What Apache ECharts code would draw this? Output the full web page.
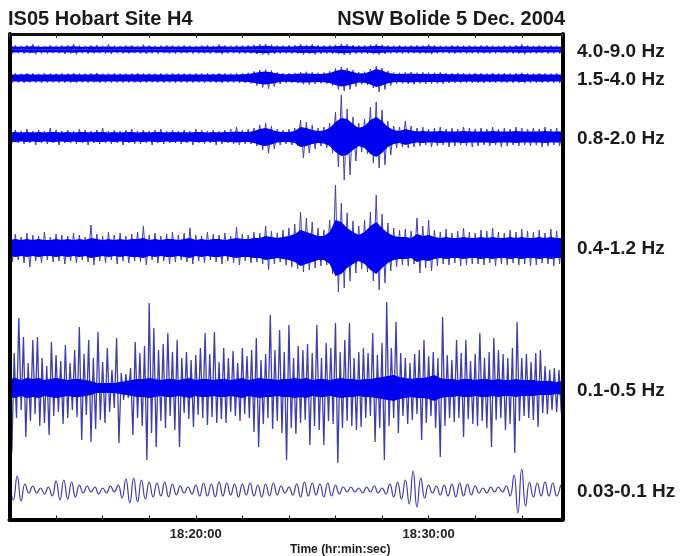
<!DOCTYPE html>
<html>
<head>
<meta charset="utf-8">
<script src="https://cdn.jsdelivr.net/npm/echarts@6/dist/echarts.min.js"></script>
<style>
  html, body { margin: 0; padding: 0; background: #fff; }
  #chart { width: 684px; height: 556px; }
</style>
</head>
<body>
<div id="chart"></div>
<script>
// ── Data (amplitudes, arbitrary units) ───────────────────────────────────────
const bandNames = ['4.0-9.0 Hz', '1.5-4.0 Hz', '0.8-2.0 Hz', '0.4-1.2 Hz', '0.1-0.5 Hz', '0.03-0.1 Hz'];
const tickLabels = ['18:20:00', '18:30:00'];
const startSec = 18 * 3600 + 12 * 60;   // 18:12:00
const endSec = startSec + 1425;         // 18:35:45
const envStep = 15;    // envelope samples, seconds
const b5Step = 6;      // 0.1-0.5 Hz peaks, seconds
const b6Step = 10;     // 0.03-0.1 Hz peaks, seconds

// dense traces, every 15 s: peak above (Up), peak below (Dn), solid core half-width (Core)
const b1Up = [3.8,4.1,3.7,4.3,5.3,3.9,3.6,4.2,3.8,4.0, 4.3,5.5,3.9,3.7,4.1,4.4,3.8,5.1,3.9,3.7,
  4.0,4.2,3.8,4.9,4.1,3.7,3.9,4.3,4.0,3.8, 4.2,3.9,3.7,4.1,4.3,3.8,5.0,4.1,3.9,4.2,
  4.0,4.3,4.7,5.2,5.6,4.8,4.2,4.0,4.3,4.5, 5.5,4.6,5.3,4.3,4.1,4.4,4.7,5.6,5.3,4.5,
  4.2,4.3,4.8,5.5,4.6,4.1,4.0,4.3,3.9,4.1, 4.2,4.0,5.1,4.1,3.9,3.8,4.2,4.0,3.9,4.1,
  3.8,4.0,4.2,3.9,3.8,4.1,3.9,4.2,5.2,4.0, 3.8,4.1,3.9,4.0,3.8,4.1];
const b1Dn = [3.9,3.7,4.2,3.8,4.8,4.0,4.1,3.7,3.9,4.4, 4.0,4.9,3.8,4.2,3.9,3.7,4.1,4.6,3.8,4.0,
  3.9,3.8,4.2,4.5,3.9,4.1,3.8,4.0,4.2,3.9, 3.8,4.1,4.0,3.9,4.2,3.8,4.7,4.0,3.8,4.1,
  4.2,4.0,4.5,5.0,5.4,4.6,4.1,3.9,4.2,4.3, 5.1,4.4,5.0,4.2,4.0,4.3,4.5,5.3,5.0,4.3,
  4.1,4.2,4.6,5.2,4.4,4.0,3.9,4.1,4.0,3.8, 4.1,3.9,4.7,4.0,3.8,3.9,4.1,3.8,4.0,3.9,
  3.9,3.8,4.1,4.0,3.7,3.9,4.0,4.1,4.8,3.9, 4.0,3.8,4.1,3.9,4.0,3.9];
const b1Core = [2.8,3.0,2.7,2.9,3.2,2.8,2.7,2.9,2.8,2.9, 3.0,3.3,2.8,2.7,2.9,3.0,2.8,3.1,2.8,2.7,
  2.9,3.0,2.8,3.1,2.9,2.7,2.8,3.0,2.9,2.8, 2.9,2.8,2.7,2.9,3.0,2.8,3.2,2.9,2.8,3.0,
  2.9,3.0,3.2,3.5,3.8,3.3,3.0,2.9,3.0,3.1, 3.6,3.2,3.5,3.0,2.9,3.1,3.2,3.7,3.5,3.1,
  3.0,3.0,3.3,3.7,3.2,2.9,2.8,3.0,2.8,2.9, 3.0,2.9,3.2,2.9,2.8,2.8,3.0,2.9,2.8,2.9,
  2.8,2.9,3.0,2.8,2.8,2.9,2.8,3.0,3.3,2.9, 2.8,2.9,2.8,2.9,2.8,2.9];

const b2Up = [4.5,4.7,4.3,4.9,4.6,4.4,4.8,4.5,4.3,4.7, 4.6,5.0,4.4,4.5,4.7,5.1,4.4,4.6,4.8,4.4,
  4.5,4.7,4.9,4.5,4.6,4.4,4.7,4.5,4.8,4.6, 4.5,4.4,4.7,4.6,4.8,4.5,4.9,4.6,4.5,4.7,
  4.8,5.3,6.5,8.0,8.5,7.5,5.7,5.0,4.8,5.1, 6.0,6.3,5.7,5.3,5.5,6.7,9.5,11.0,10.0,8.0,
  6.0,6.3,9.0,12.0,10.0,7.0,5.5,5.3,5.7,6.0, 5.3,5.8,5.5,5.4,5.7,5.0,4.8,5.1,4.9,4.7,
  5.0,4.8,4.6,5.1,4.7,4.9,4.6,4.8,5.3,4.7, 4.6,4.9,4.7,4.5,4.8,4.7];
const b2Dn = [4.6,4.5,4.8,4.4,4.7,4.9,4.5,4.4,4.7,4.6, 4.8,4.9,4.5,4.6,4.4,5.0,4.7,4.5,4.6,4.7,
  4.6,4.5,4.8,4.7,4.4,4.6,4.8,4.5,4.7,4.5, 4.7,4.6,4.5,4.8,4.6,4.7,5.0,4.5,4.6,4.8,
  4.9,5.5,7.5,9.5,10.5,8.5,6.0,5.1,4.9,5.2, 6.3,6.5,5.9,5.4,5.7,7.5,11.5,13.0,11.5,8.5,
  6.3,6.7,10.0,14.0,11.5,7.5,5.7,5.5,6.0,6.3, 5.5,6.0,5.7,5.4,5.9,5.1,4.9,5.0,4.8,4.9,
  4.8,5.0,4.7,4.9,4.8,4.7,4.9,4.6,5.1,4.8, 4.7,4.8,4.6,4.9,4.7,4.8];
const b2Core = [3.5,3.6,3.4,3.7,3.5,3.4,3.6,3.5,3.4,3.6, 3.5,3.8,3.4,3.5,3.6,3.8,3.4,3.5,3.6,3.4,
  3.5,3.6,3.7,3.5,3.5,3.4,3.6,3.5,3.6,3.5, 3.5,3.4,3.6,3.5,3.6,3.5,3.7,3.5,3.5,3.6,
  3.7,4.0,5.0,6.0,6.5,5.7,4.4,3.8,3.7,3.9, 4.4,4.6,4.3,4.0,4.2,5.0,7.0,8.5,7.5,6.0,
  4.6,4.8,6.5,9.0,7.5,5.2,4.2,4.0,4.3,4.4, 4.0,4.3,4.1,4.0,4.2,3.8,3.7,3.8,3.7,3.6,
  3.7,3.7,3.5,3.8,3.6,3.7,3.5,3.6,3.9,3.6, 3.5,3.7,3.6,3.5,3.6,3.6];

const b3Up = [6,7,6,8,6,7,6,9,7,6, 7,6,8,7,6,7,9,6,7,6,
  7,8,6,7,6,7,8,6,7,6, 7,6,8,7,6,7,6,7,8,10,
  7,8,9,12,14,11,8,7,8,9, 17,15,12,9,10,14,25,42,28,20,
  14,18,30,35,27,16,11,10,16,11, 9,10,8,9,10,8,9,8,10,9,
  8,9,8,10,8,9,8,10,9,8, 9,8,10,8,9,10];
const b3Dn = [6,6,7,6,8,6,7,6,8,6, 6,7,6,8,6,7,6,7,6,8,
  6,7,7,6,8,6,7,6,6,7, 6,8,6,7,6,8,7,6,7,8,
  7,7,9,13,16,12,8,7,8,9, 21,16,12,9,11,16,30,43,38,24,
  15,17,26,31,28,18,11,10,11,10, 9,8,10,9,8,10,9,8,9,10,
  9,8,9,8,10,9,8,9,8,9, 8,10,9,8,9,8];
const b3Core = [4.5,5,4.5,5,4.5,5,4.5,5,5,4.5, 5,4.5,5,5,4.5,5,5,4.5,5,4.5,
  5,5,4.5,5,4.5,5,5,4.5,5,4.5, 5,4.5,5,5,4.5,5,4.5,5,5,5.5,
  5,5,6,8,9,7.5,5.5,5,5,6, 10,9,7,6,6.5,9,15,19,18,13,
  9,11,17,20,16,10,7,6,8,6.5, 5.5,6,5.5,5.5,6,5.5,5.5,5.5,6,5.5,
  5.5,5.5,5.5,6,5.5,5.5,5.5,6,5.5,5.5, 5.5,5.5,6,5.5,5.5,5.5];

const b4Up = [12,14,11,15,13,12,16,11,14,13, 12,15,13,11,23,14,12,16,13,15,
  12,14,16,22,13,15,12,14,16,13, 15,20,13,12,16,14,13,15,12,21,
  14,13,16,15,22,17,15,18,20,24, 36,30,26,20,18,28,63,45,35,27,
  22,28,36,53,34,25,20,18,19,17, 30,22,28,18,16,19,15,17,20,16,
  15,18,17,20,16,15,18,16,19,17, 16,18,15,19,17,16];
const b4Dn = [14,12,15,19,13,15,12,14,13,16, 13,15,12,14,17,13,15,12,16,13,
  15,13,14,17,12,15,13,16,14,12, 14,16,13,15,12,14,16,13,15,17,
  13,15,14,16,22,16,14,17,19,21, 24,22,20,18,17,26,44,40,33,25,
  21,24,33,42,35,23,19,17,18,16, 25,20,23,18,16,17,15,18,17,16,
  16,17,15,18,16,17,15,17,16,18, 17,15,16,18,16,17];
const b4Core = [8,9,8,9,8,9,8,8,9,8, 9,8,9,8,10,9,8,9,8,9,
  8,9,9,10,8,9,8,9,9,8, 9,10,8,9,8,9,9,8,9,10,
  9,9,10,10,12,11,10,11,12,14, 18,16,14,12,12,16,28,26,20,16,
  13,16,22,26,20,15,12,11,11,10, 14,12,13,11,10,11,10,10,11,10,
  10,11,10,11,10,10,11,10,11,10, 10,11,10,11,10,10];

// 0.1-0.5 Hz: dense core half-width every 15 s, and successive peaks every 6 s
const b5Core = [9,10,8,10,9,10,8,9,10,9, 8,9,9,8,7,5,5,5,5,6,
  7,8,9,9,10,9,8,9,9,8, 9,10,8,9,9,8,9,9,8,9,
  10,8,9,10,9,9,8,9,9,10, 9,10,8,9,9,8,9,10,9,9,
  8,9,9,10,11,12,13,11,10,9, 10,10,11,13,10,9,9,8,9,9,
  8,9,9,8,9,8,8,9,8,8, 8,7,7,7,6,7];
const b5Peaks = [28,-64,35,-30,70,-22,51,-49,25,-33, 48,-26,51,-38,30,-35,22,-47,46,-28,
  33,-24,27,-36,43,-30,25,-22,38,-29, 61,-52,34,-27,48,-54,30,-41,56,-32,
  26,-35,40,-24,18,-20,50,-55,15,-12, 14,-10,20,-47,46,-30,35,-38,42,-72,
  85,-45,60,-59,38,-33,44,-40,55,-28, 36,-42,48,-59,30,-25,36,-31,28,-39,
  33,-27,40,-30,55,-37,34,-29,56,-35, 26,-31,40,-35,30,-24,37,-28,25,-33,
  40,-26,32,-30,38,-44,50,-59,28,-36, 34,-30,73,-41,38,-33,58,-45,36,-72,
  63,-40,30,-46,42,-35,38,-32,44,-57, 35,-38,63,-42,30,-57,45,-33,40,-36,
  65,-75,36,-40,48,-33,65,-38,30,-42, 36,-39,40,-30,35,-28,55,-54,33,-40,
  45,-72,86,-38,40,-30,66,-45,35,-28, 30,-36,25,-32,34,-26,38,-52,48,-35,
  32,-28,36,-40,30,-69,71,-38,33,-30, 28,-34,48,-30,35,-49,48,-31,27,-36,
  34,-38,55,-33,30,-40,36,-59,50,-32, 38,-30,34,-42,30,-36,40,-65,66,-33,
  30,-28,34,-30,26,-32,35,-39,38,-25, 22,-26,18,-22,20,-24,18,-25];

// 0.03-0.1 Hz: successive peaks every 10 s
const b6Peaks = [12,-10,14,-11,6,-3,4,-3,2,-4, 3,-6,9,-10,10,-9,8,-7,5,-3,
  4,-2,3,-4,2,-3,4,-2,5,-8, 11,-13,12,-12,10,-9,8,-7,7,-6,
  8,-7,6,-5,4,-3,3,-4,5,-6, 7,-6,6,-7,8,-6,7,-5,6,-7,
  6,-5,7,-6,5,-7,6,-6,7,-5, 4,-3,3,-5,6,-7,8,-6,7,-5,
  6,-7,7,-6,5,-4,3,-2,3,-2, 2,-3,3,-2,4,-3,2,-4,6,-7,
  8,-9,10,-14,19,-17,12,-8,5,-3, 4,-5,5,-6,6,-7,7,-6,6,-5,
  4,-3,2,-3,3,-2,3,-2,4,-6, 15,-23,21,-16,8,-7,7,-6,8,-6,
  7,-6,5];

// ── Layout ───────────────────────────────────────────────────────────────────
const plotLeft = 9.5, plotRight = 121.5, plotTop = 34, plotBottom = 36.5;
const bandCenter = [49.5, 78, 137, 248, 388, 490];
const bandRange  = [8, 15, 46, 66, 90, 25];
const labelY     = [52, 80, 139, 249, 391, 492];

const FONT = '"Liberation Sans", Arial, sans-serif';
const FILL = '#0000f0';
const HAIR = '#4242a8';

function hms(v) {
    const h = Math.floor(v / 3600), m = Math.floor((v % 3600) / 60), s = v % 60;
    const p = n => (n < 10 ? '0' : '') + n;
    return h + ':' + p(m) + ':' + p(s);
}

function pts(arr, step, sign) {
    return arr.map((v, i) => [startSec + i * step, sign * v]);
}

// peak above at t, peak below half a step later
function zigzag(up, dn, step) {
    const out = [];
    up.forEach((v, i) => {
        out.push([startSec + i * step, v]);
        out.push([startSec + i * step + step / 2, -dn[i]]);
    });
    return out;
}

// ── Grids & axes ─────────────────────────────────────────────────────────────
const grids = [{ left: plotLeft, right: plotRight, top: plotTop, bottom: plotBottom }];
const xAxes = [
    {
        gridIndex: 0, type: 'value', min: startSec, max: endSec, interval: 120, position: 'bottom', z: 10,
        axisLine: { show: true, onZero: false, lineStyle: { color: '#000', width: 4 } },
        axisTick: { show: true, inside: true, length: 4, lineStyle: { color: '#000', width: 1 } },
        axisLabel: {
            color: '#222', fontSize: 13, fontWeight: 'bold', fontFamily: FONT, margin: 8,
            formatter: v => (tickLabels.indexOf(hms(v)) >= 0 ? hms(v) : '')
        },
        splitLine: { show: false }
    },
    {
        gridIndex: 0, type: 'value', min: startSec, max: endSec, interval: 120, position: 'top', z: 10,
        axisLine: { show: true, onZero: false, lineStyle: { color: '#111', width: 3 } },
        axisTick: { show: true, inside: true, length: 4, lineStyle: { color: '#333', width: 1 } },
        axisLabel: { show: false },
        splitLine: { show: false }
    }
];
const yAxes = [
    {
        gridIndex: 0, type: 'value', min: 0, max: 1, position: 'left', z: 10,
        axisLine: { show: true, onZero: false, lineStyle: { color: '#000', width: 4 } },
        axisTick: { show: false }, axisLabel: { show: false }, splitLine: { show: false }
    },
    {
        gridIndex: 0, type: 'value', min: 0, max: 1, position: 'right', z: 10,
        axisLine: { show: true, onZero: false, lineStyle: { color: '#000', width: 4 } },
        axisTick: { show: false }, axisLabel: { show: false }, splitLine: { show: false }
    }
];

bandCenter.forEach((c, k) => {
    const r = bandRange[k];
    grids.push({ left: plotLeft, right: plotRight, top: c - r, height: 2 * r });
    xAxes.push({ gridIndex: k + 1, type: 'value', min: startSec, max: endSec, show: false });
    yAxes.push({ gridIndex: k + 1, type: 'value', min: -r, max: r, show: false });
});

// ── Series ───────────────────────────────────────────────────────────────────
const series = [];

function core(k, arr, step) {
    [1, -1].forEach(sign => {
        series.push({
            type: 'line', xAxisIndex: k + 2, yAxisIndex: k + 2, z: 3,
            data: pts(arr, step, sign),
            symbol: 'none', silent: true,
            lineStyle: { width: 0 },
            areaStyle: { color: FILL, opacity: 1 }
        });
    });
}

function hair(k, data, color, width) {
    series.push({
        type: 'line', xAxisIndex: k + 2, yAxisIndex: k + 2, z: 2,
        data: data, symbol: 'none', silent: true,
        lineStyle: { color: color, width: width }
    });
}

hair(0, zigzag(b1Up, b1Dn, envStep), HAIR, 1);
core(0, b1Core, envStep);
hair(1, zigzag(b2Up, b2Dn, envStep), HAIR, 1);
core(1, b2Core, envStep);
hair(2, zigzag(b3Up, b3Dn, envStep), HAIR, 1);
core(2, b3Core, envStep);
hair(3, zigzag(b4Up, b4Dn, envStep), HAIR, 1);
core(3, b4Core, envStep);

hair(4, pts(b5Peaks, b5Step, 1), '#3e3eaa', 1.3);
core(4, b5Core, envStep);

series.push({
    type: 'line', xAxisIndex: 7, yAxisIndex: 7, z: 3,
    data: pts(b6Peaks, b6Step, 1),
    smooth: true, symbol: 'none', silent: true,
    lineStyle: { color: '#3a3aa8', width: 1.2 }
});

// ── Texts ────────────────────────────────────────────────────────────────────
const graphic = [
    { type: 'text', x: 8, y: 19.5, style: { text: 'IS05 Hobart Site H4', fill: '#1a1a1a', font: 'bold 20px ' + FONT, align: 'left', verticalAlign: 'middle' } },
    { type: 'text', x: 565, y: 19.5, style: { text: 'NSW Bolide 5 Dec. 2004', fill: '#1a1a1a', font: 'bold 20px ' + FONT, align: 'right', verticalAlign: 'middle' } },
    { type: 'text', x: 290, y: 550, style: { text: 'Time (hr:min:sec)', fill: '#1a1a1a', font: 'bold 12px ' + FONT, align: 'left', verticalAlign: 'middle' } }
];
bandNames.forEach((name, k) => {
    graphic.push({ type: 'text', x: 577, y: labelY[k], style: { text: name, fill: '#1a1a1a', font: 'bold 19px ' + FONT, align: 'left', verticalAlign: 'middle' } });
});

const chart = echarts.init(document.getElementById('chart'), null, { renderer: 'canvas' });
chart.setOption({
    animation: false,
    backgroundColor: '#fff',
    grid: grids,
    xAxis: xAxes,
    yAxis: yAxes,
    series: series,
    graphic: graphic
});
</script>
</body>
</html>
